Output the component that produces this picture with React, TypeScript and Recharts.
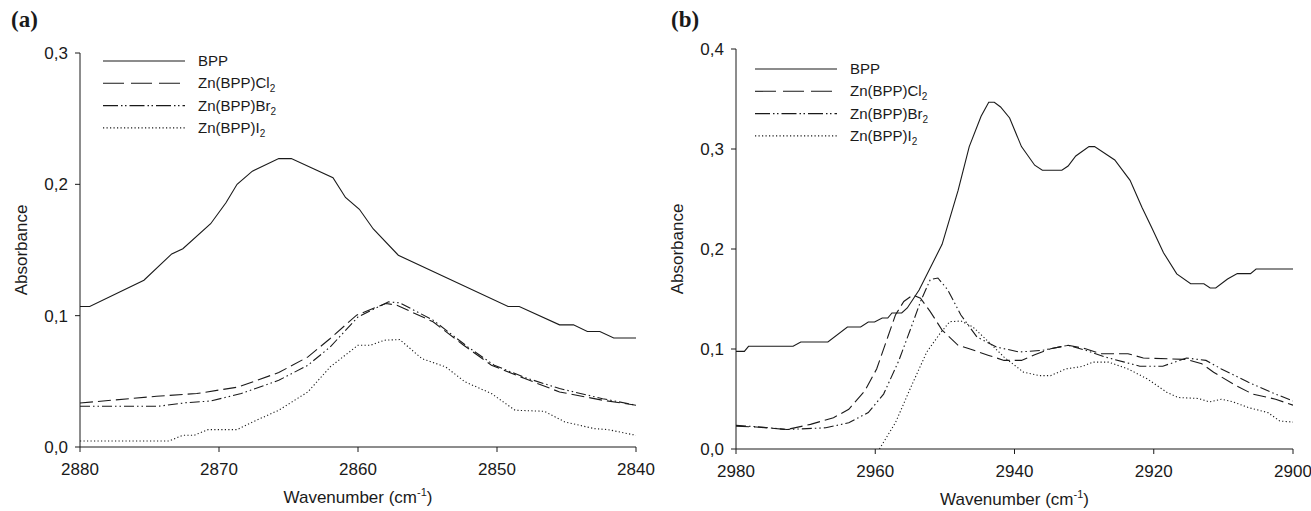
import { LineChart, Line, XAxis, YAxis, Legend } from 'recharts';

// [wavenumber, absorbance] pairs
const bppA: [number, number][] = [
  [2880, 0.107], [2879.3, 0.107], [2875.4, 0.127], [2873.4, 0.147], [2872.6, 0.151], [2870.6, 0.17],
  [2869.5, 0.186], [2868.7, 0.2], [2867.6, 0.21], [2865.7, 0.2196], [2864.8, 0.2196], [2861.8, 0.205],
  [2860.9, 0.19], [2859.9, 0.181], [2858.9, 0.166], [2857.1, 0.146], [2849.2, 0.107], [2848.4, 0.107],
  [2845.5, 0.093], [2844.5, 0.093], [2843.5, 0.088], [2842.6, 0.088], [2841.6, 0.083], [2840, 0.083],
];
const cl2A: [number, number][] = [
  [2880, 0.0335], [2874.5, 0.0386], [2871.6, 0.0407], [2868.6, 0.0457], [2865.7, 0.0567], [2863.6, 0.0686],
  [2862, 0.0826], [2860.1, 0.1004], [2858, 0.1093], [2857.2, 0.108], [2854.6, 0.0953], [2852.4, 0.0775],
  [2850.4, 0.0623], [2848, 0.0521], [2845.5, 0.0419], [2842.4, 0.0356], [2840, 0.0318],
];
const br2A: [number, number][] = [
  [2880, 0.031], [2874.4, 0.031], [2872.3, 0.0338], [2870.6, 0.035], [2868.4, 0.0407], [2865.7, 0.0508],
  [2863.6, 0.0623], [2862, 0.0762], [2860, 0.099], [2857.8, 0.1105], [2857, 0.1098], [2854.6, 0.0966],
  [2852.1, 0.0762], [2850.2, 0.0623], [2848, 0.0529], [2845.5, 0.0445], [2842.4, 0.0368], [2840, 0.0318],
];
const i2A: [number, number][] = [
  [2880, 0.0046], [2873.6, 0.0046], [2872.6, 0.0089], [2871.8, 0.0089], [2870.8, 0.0132], [2868.7, 0.0132],
  [2867.6, 0.019], [2865.7, 0.028], [2863.6, 0.042], [2862, 0.061], [2860, 0.0775], [2859.1, 0.0775],
  [2858.1, 0.0813], [2857, 0.0818], [2855.4, 0.0673], [2853.7, 0.061], [2852.3, 0.0496], [2850.4, 0.0407],
  [2848.7, 0.028], [2846.6, 0.0272], [2845.1, 0.019], [2843, 0.014], [2842, 0.0132], [2840, 0.0089],
];

const bppB: [number, number][] = [
  [2980, 0.0976], [2978.8, 0.0976], [2978.2, 0.1027], [2971.8, 0.1027], [2970.7, 0.107], [2966.8, 0.107],
  [2964, 0.122], [2962.1, 0.122], [2961, 0.127], [2960.1, 0.127], [2959, 0.131], [2958.2, 0.131],
  [2957.6, 0.136], [2956.2, 0.136], [2955.4, 0.141], [2953.7, 0.159], [2950.4, 0.2047], [2948.1, 0.2586],
  [2946.5, 0.3024], [2944.8, 0.3327], [2943.7, 0.3468], [2942.9, 0.3468], [2942, 0.342], [2940.7, 0.331],
  [2939, 0.3024], [2937.1, 0.2838], [2936, 0.2788], [2933.2, 0.2788], [2932.3, 0.283], [2931.2, 0.293],
  [2929.3, 0.3024], [2928.5, 0.3024], [2925.6, 0.289], [2923.4, 0.2687], [2921.7, 0.2418], [2920.3, 0.2215],
  [2918.6, 0.1963], [2916.7, 0.1751], [2914.7, 0.1653], [2912.8, 0.1653], [2911.9, 0.161], [2911.1, 0.161],
  [2909.4, 0.17], [2908, 0.1754], [2906.1, 0.1754], [2905.3, 0.18], [2900, 0.18],
];
const cl2B: [number, number][] = [
  [2980, 0.0229], [2977.1, 0.022], [2972.7, 0.0195], [2969.3, 0.0246], [2966, 0.0313], [2963.8, 0.0397],
  [2961.5, 0.0582], [2959.8, 0.08], [2958.2, 0.112], [2957.1, 0.134], [2955.9, 0.1475], [2954.6, 0.154],
  [2953.5, 0.1508], [2952.1, 0.1374], [2950.4, 0.1189], [2948.1, 0.1037], [2946.5, 0.1003], [2943.7, 0.0936],
  [2941.5, 0.0886], [2939, 0.0886], [2937.1, 0.0943], [2934.8, 0.1003], [2932.3, 0.1037], [2929.8, 0.1003],
  [2927.6, 0.0953], [2923.7, 0.0953], [2921.5, 0.091], [2915.3, 0.0896], [2913.1, 0.0852], [2911.4, 0.0768],
  [2908.6, 0.065], [2905.8, 0.0549], [2902.5, 0.0498], [2900, 0.0438],
];
const br2B: [number, number][] = [
  [2980, 0.0236], [2976.5, 0.022], [2972.7, 0.0195], [2967.1, 0.0212], [2963.8, 0.0263], [2961, 0.0364],
  [2958.8, 0.0549], [2956.6, 0.0886], [2954.9, 0.1205], [2953.5, 0.1475], [2952.1, 0.1694], [2951, 0.171],
  [2949.6, 0.1593], [2947.7, 0.134], [2945.4, 0.112], [2942.6, 0.102], [2939.3, 0.097], [2936, 0.0987],
  [2932.3, 0.1037], [2929.8, 0.0987], [2927, 0.092], [2924.2, 0.0869], [2922, 0.0828], [2918.7, 0.0828],
  [2915.3, 0.091], [2912.5, 0.0886], [2910.3, 0.0801], [2906.4, 0.0667], [2902.5, 0.0549], [2900, 0.0481],
];
const i2B: [number, number][] = [
  [2959.4, 0], [2957.1, 0.0263], [2954.9, 0.0616], [2952.6, 0.097], [2950.7, 0.1155], [2949.3, 0.1273],
  [2947.7, 0.128], [2946, 0.1222], [2943.7, 0.107], [2941.5, 0.0919], [2938.7, 0.0768], [2936.4, 0.0734],
  [2934.8, 0.0734], [2932.6, 0.0801], [2930.3, 0.0825], [2928.7, 0.0869], [2926.5, 0.0869], [2923.7, 0.0801],
  [2920.9, 0.07], [2918.1, 0.0566], [2916.5, 0.0515], [2913.6, 0.0505], [2912, 0.0471], [2910.3, 0.0498],
  [2908.6, 0.0471], [2906.4, 0.0414], [2903.6, 0.0364], [2901.9, 0.028], [2900, 0.0269],
];

const ticksXA = [2880, 2870, 2860, 2850, 2840];
const ticksYA = [0, 0.1, 0.2, 0.3];
const ticksXB = [2980, 2960, 2940, 2920, 2900];
const ticksYB = [0, 0.1, 0.2, 0.3, 0.4];

const FONT = 'Liberation Sans, Arial, sans-serif';
const INK = '#1a1a1a';

const STYLES = [
  { key: 'bpp', name: 'BPP', sub: '', dash: undefined as string | undefined, legendDash: undefined as string | undefined },
  { key: 'cl2', name: 'Zn(BPP)Cl', sub: '2', dash: '13 5', legendDash: '21 7' },
  { key: 'br2', name: 'Zn(BPP)Br', sub: '2', dash: '10 3 1.5 3 1.5 3', legendDash: '15 3 1.5 2.5 1.5 3' },
  { key: 'i2', name: 'Zn(BPP)I', sub: '2', dash: '1.2 2.3', legendDash: '1.2 2.3' },
];

const toPts = (arr: [number, number][]) => arr.map(([x, y]) => ({ x, y }));
const fmt = (v: number) => v.toFixed(1).replace('.', ',');

const LegendBox = () => (
  <svg width={180} height={95} style={{ display: 'block' }}>
    {STYLES.map((s, i) => {
      const y = 8 + i * 22.3;
      return (
        <g key={s.key}>
          <line x1={3} x2={85} y1={y} y2={y} stroke={INK} strokeWidth={1.1} strokeDasharray={s.legendDash} />
          <text x={98} y={y + 5} fontSize={15} fontFamily={FONT} fill={INK}>
            {s.name}
            {s.sub && <tspan dy={4} fontSize={10}>{s.sub}</tspan>}
          </text>
        </g>
      );
    })}
  </svg>
);

const xLabel = (props: any) => {
  const vb = props.viewBox;
  return (
    <text x={vb.x + vb.width / 2} y={vb.y + 56} textAnchor="middle" fontSize={17} fontFamily={FONT} fill={INK}>
      Wavenumber (cm<tspan dy={-7} fontSize={11}>-1</tspan><tspan dy={7}>)</tspan>
    </text>
  );
};

const yLabel = (props: any) => {
  const vb = props.viewBox;
  const cx = vb.x + 1;
  const cy = vb.y + vb.height / 2;
  return (
    <text x={cx} y={cy} transform={`rotate(-90 ${cx} ${cy})`} textAnchor="middle" dominantBaseline="central" fontSize={17} fontFamily={FONT} fill={INK}>
      Absorbance
    </text>
  );
};

type PanelProps = {
  tag: string;
  left: number;
  width: number;
  margin: { top: number; right: number; bottom: number; left: number };
  xDomain: [number, number];
  yDomain: [number, number];
  xTicks: number[];
  yTicks: number[];
  series: [number, number][][];
  legendPos: { left: number; top: number };
};

const Panel = ({ tag, left, width, margin, xDomain, yDomain, xTicks, yTicks, series, legendPos }: PanelProps) => (
  <div style={{ position: 'absolute', left, top: 0, width, height: 511 }}>
    <div style={{ position: 'absolute', left: 11, top: 7, fontFamily: 'Liberation Serif, serif', fontWeight: 'bold', fontSize: 23, color: INK }}>
      {tag}
    </div>
    <LineChart width={width} height={511} margin={margin}>
      <XAxis
        dataKey="x"
        type="number"
        domain={xDomain}
        ticks={xTicks}
        reversed
        allowDataOverflow
        height={40}
        stroke={INK}
        tickSize={5}
        tickMargin={11}
        tick={{ fontSize: 17, fontFamily: FONT, fill: INK }}
        label={xLabel}
      />
      <YAxis
        type="number"
        domain={yDomain}
        ticks={yTicks}
        allowDataOverflow
        width={60}
        stroke={INK}
        tickSize={5}
        tickMargin={7}
        tickFormatter={fmt}
        tick={{ fontSize: 17, fontFamily: FONT, fill: INK }}
        label={yLabel}
      />
      <Legend
        layout="vertical"
        align="center"
        verticalAlign="middle"
        content={() => <LegendBox />}
        wrapperStyle={{ left: legendPos.left, top: legendPos.top, width: 180 }}
      />
      {series.map((d, i) => (
        <Line
          key={STYLES[i].key}
          data={toPts(d)}
          dataKey="y"
          name={STYLES[i].name}
          type="linear"
          stroke={INK}
          strokeWidth={1.1}
          strokeDasharray={STYLES[i].dash}
          dot={false}
          activeDot={false}
          isAnimationActive={false}
        />
      ))}
    </LineChart>
  </div>
);

export default function App() {
  return (
    <div style={{ position: 'absolute', left: 0, top: 0, width: 1311, height: 511, background: '#fff' }}>
      <Panel
        tag="(a)"
        left={0}
        width={660}
        margin={{ top: 53, right: 24, bottom: 24, left: 20 }}
        xDomain={[2840, 2880]}
        yDomain={[0, 0.3]}
        xTicks={ticksXA}
        yTicks={ticksYA}
        series={[bppA, cl2A, br2A, i2A]}
        legendPos={{ left: 100, top: 53 }}
      />
      <Panel
        tag="(b)"
        left={660}
        width={651}
        margin={{ top: 49, right: 18, bottom: 22, left: 16 }}
        xDomain={[2900, 2980]}
        yDomain={[0, 0.4]}
        xTicks={ticksXB}
        yTicks={ticksYB}
        series={[bppB, cl2B, br2B, i2B]}
        legendPos={{ left: 92, top: 61 }}
      />
    </div>
  );
}
